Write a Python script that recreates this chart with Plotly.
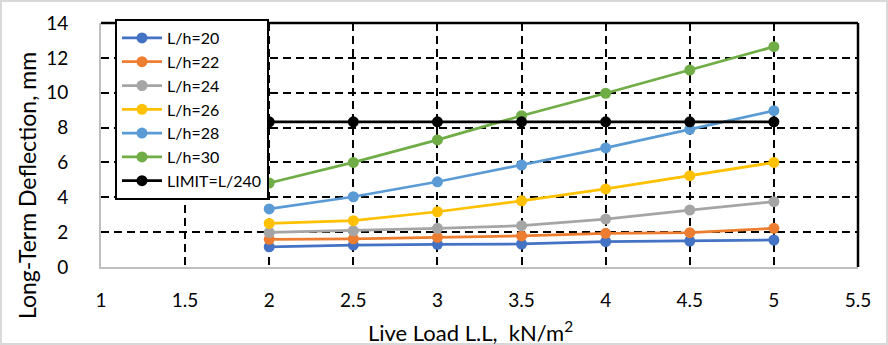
import plotly.graph_objects as go

live_load = [2, 2.5, 3, 3.5, 4, 4.5, 5]
lh20 = [1.16, 1.26, 1.30, 1.32, 1.45, 1.49, 1.55]
lh22 = [1.59, 1.62, 1.70, 1.78, 1.93, 1.97, 2.22]
lh24 = [1.98, 2.08, 2.22, 2.37, 2.75, 3.27, 3.75]
lh26 = [2.50, 2.66, 3.17, 3.80, 4.48, 5.24, 6.00]
lh28 = [3.33, 4.03, 4.89, 5.85, 6.83, 7.90, 8.97]
lh30 = [4.82, 6.00, 7.29, 8.68, 9.97, 11.30, 12.64]
limit = [8.33, 8.33, 8.33, 8.33, 8.33, 8.33, 8.33]

names = ["L/h=20", "L/h=22", "L/h=24", "L/h=26", "L/h=28", "L/h=30", "LIMIT=L/240"]
series = [lh20, lh22, lh24, lh26, lh28, lh30, limit]
colors = ["#4472C4", "#ED7D31", "#A5A5A5", "#FFC000", "#5B9BD5", "#70AD47", "#000000"]

x_ticks = [1, 1.5, 2, 2.5, 3, 3.5, 4, 4.5, 5, 5.5]
y_ticks = [0, 2, 4, 6, 8, 10, 12, 14]

FONT = "Lato, Carlito, 'Liberation Sans', sans-serif"

fig = go.Figure()
for name, ys, c in zip(names, series, colors):
    fig.add_trace(go.Scatter(
        x=live_load, y=ys, name=name, mode="lines+markers",
        line=dict(color=c, width=2.75),
        marker=dict(color=c, size=11),
    ))

W, H = 888, 345
ml, mr, mt, mb = 101, 30, 23, 78
pw, ph = W - ml - mr, H - mt - mb

fig.update_layout(
    width=W, height=H,
    margin=dict(l=ml, r=mr, t=mt, b=mb),
    paper_bgcolor="white", plot_bgcolor="white",
    font=dict(family=FONT, size=19, color="#000000"),
    showlegend=True,
    legend=dict(
        x=(115 - ml) / pw, y=(H - mb - 19) / ph, xanchor="left", yanchor="top",
        bgcolor="white", bordercolor="black", borderwidth=2,
        font=dict(family=FONT, size=16, color="#000000"),
        tracegroupgap=0, itemwidth=40, maxheight=320,
    ),
    xaxis=dict(
        range=[1, 5.5], tickvals=x_ticks, ticktext=[str(v) for v in x_ticks],
        showgrid=True, gridcolor="black", gridwidth=1.5, griddash="8px,5px",
        showline=True, linecolor="#BFBFBF", linewidth=2,
        zeroline=False, ticks="outside", ticklen=15, tickcolor="rgba(0,0,0,0)",
        tickfont=dict(family=FONT, size=19),
    ),
    yaxis=dict(
        range=[0, 14], tickvals=y_ticks, ticktext=[str(v) for v in y_ticks],
        showgrid=True, gridcolor="black", gridwidth=1.5, griddash="8px,5px",
        showline=True, linecolor="#BFBFBF", linewidth=2,
        zeroline=False, ticks="outside", ticklen=27, tickcolor="rgba(0,0,0,0)",
        tickfont=dict(family=FONT, size=19),
    ),
    annotations=[
        dict(text="Live Load L.L,  kN/m<sup>2</sup>", xref="paper", yref="paper",
             x=(470 - ml) / pw, y=-(331 - (H - mb)) / ph, showarrow=False,
             xanchor="center", yanchor="middle", font=dict(family=FONT, size=22)),
        dict(text="Long-Term Deflection, mm", xref="paper", yref="paper",
             x=(27 - ml) / pw, y=((H - mb) - 186) / ph, showarrow=False, textangle=-90,
             xanchor="center", yanchor="middle", font=dict(family=FONT, size=23)),
    ],
    shapes=[
        dict(type="line", xref="paper", yref="paper", x0=0, x1=1, y0=1, y1=1,
             line=dict(color="black", width=2.5), layer="above"),
        dict(type="line", xref="paper", yref="paper", x0=1, x1=1, y0=0, y1=1,
             line=dict(color="black", width=2.5), layer="above"),
        dict(type="rect", xref="paper", yref="paper",
             x0=-(ml - 1) / pw, x1=1 + (mr - 1) / pw,
             y0=-(mb - 1) / ph, y1=1 + (mt - 1) / ph,
             line=dict(color="#D9D9D9", width=2), layer="below"),
    ],
)

fig.write_html("out.html")
